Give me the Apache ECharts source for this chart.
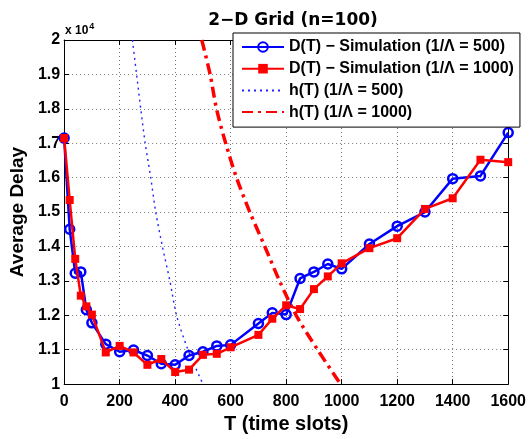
<!DOCTYPE html>
<html><head><meta charset="utf-8">
<script src="https://cdn.jsdelivr.net/npm/echarts@6/dist/echarts.min.js"></script>
<style>html,body{margin:0;padding:0;background:#fff}#c{width:529px;height:439px}</style>
</head><body><div id="c"></div>
<script>
const xTicks = [0,200,400,600,800,1000,1200,1400,1600];
const yTicks = [10000,11000,12000,13000,14000,15000,16000,17000,18000,19000,20000];
const simX = [0,20,40,60,80,100,150,200,250,300,350,400,450,500,550,600,700,750,800,850,900,950,1000,1100,1200,1300,1400,1500,1600];
const sim500 = [17150,14500,13220,13260,12160,11780,11160,10940,10990,10830,10590,10560,10830,10940,11110,11140,11760,12070,12020,13070,13260,13490,13350,14070,14590,15000,15970,16050,17310];
const sim1000 = [17150,15350,13640,12570,12260,12020,10920,11110,10920,10560,10730,10350,10420,10850,10880,11070,11430,11900,12290,12180,12760,13130,13510,13950,14240,15090,15400,16520,16450];
const hY = [20000,19000,18000,17000,16000,15000,14000,13000,12000,11000,10000];
const h500X = [246,261,276,292,312,330,354,381,405,446,500];
const h1000X = [496,526,549,582,621,669,723,776,836,913,996];
const names = ['D(T) \u2212 Simulation (1/\u039b = 500)','D(T) \u2212 Simulation (1/\u039b = 1000)','h(T) (1/\u039b = 500)','h(T) (1/\u039b = 1000)'];

const pair = (xs, ys) => xs.map((x,i)=>[x, ys[i]]);
const F = 'Liberation Sans, Arial, sans-serif';
const chart = echarts.init(document.getElementById('c'));
const axisBase = {
  axisLine:{show:true, onZero:false, lineStyle:{color:'#000', width:1}},
  axisTick:{show:true, inside:true, length:5, lineStyle:{color:'#000'}},
};
chart.setOption({
  animation:false,
  title:{text:'2\u2212D Grid (n=100)', left:288, top:7, textAlign:'center',
    textStyle:{fontFamily:'DejaVu Sans', fontWeight:'bold', fontSize:17, color:'#000'}},
  graphic:[{type:'text', left:65, top:22, style:{text:'x 10{s|4}', font:'bold 12px '+F, fill:'#000',
    rich:{s:{fontSize:9, fontWeight:'bold', fontFamily:F, verticalAlign:'top', padding:[0,0,9,1]}}}}],
  grid:{left:64, right:17, top:40, bottom:50},
  legend:{show:true, left:233, top:33, orient:'vertical', backgroundColor:'#fff', borderColor:'#000', borderWidth:1,
    padding:[6,6,7,8], itemWidth:42, itemHeight:12, itemGap:5.7,
    data:[{name:names[0]},{name:names[1]},{name:names[2], itemStyle:{opacity:0}},{name:names[3], itemStyle:{opacity:0}}],
    textStyle:{fontFamily:F, fontWeight:'bold', fontSize:16, lineHeight:16, color:'#000'}},
  xAxis:[{type:'value', min:0, max:1600, interval:200, ...axisBase,
    name:'T (time slots)', nameLocation:'middle', nameGap:27,
    nameTextStyle:{fontFamily:F, fontWeight:'bold', fontSize:20, color:'#000'},
    axisLabel:{fontFamily:F, fontWeight:'bold', fontSize:16, color:'#000', margin:9, formatter:v=>String(v)},
    splitLine:{show:true, lineStyle:{type:[1,3], color:'#777'}}},
    {type:'value', position:'top', min:0, max:1600, interval:200, ...axisBase, axisLabel:{show:false}, splitLine:{show:false}}],
  yAxis:[{type:'value', min:10000, max:20000, interval:1000, ...axisBase,
    name:'Average Delay', nameLocation:'middle', nameGap:35,
    nameTextStyle:{fontFamily:F, fontWeight:'bold', fontSize:19, color:'#000'},
    axisLabel:{fontFamily:F, fontWeight:'bold', fontSize:16, color:'#000', margin:4, formatter:v=>String(+(v/10000).toFixed(1))},
    splitLine:{show:true, lineStyle:{type:[1,3], color:'#777'}}},
    {type:'value', position:'right', min:10000, max:20000, interval:1000, ...axisBase, axisLabel:{show:false}, splitLine:{show:false}}],
  series:[
    {name:names[0], type:'line', data:pair(simX, sim500), color:'#0000ff', lineStyle:{width:2.5, color:'#0000ff'},
      symbol:'circle', symbolSize:9, itemStyle:{color:'rgba(255,255,255,0)', borderColor:'#0000ff', borderWidth:2.5}, z:3},
    {name:names[1], type:'line', data:pair(simX, sim1000), color:'#ff0000', lineStyle:{width:2.5, color:'#ff0000'},
      symbol:'rect', symbolSize:8, itemStyle:{color:'#ff0000', borderColor:'#ff0000', borderWidth:0}, z:4},
    {name:names[2], type:'line', data:pair(h500X, hY), color:'#2222ff', showSymbol:false, symbol:'none', smooth:0.3,
      lineStyle:{width:1.4, type:[2,4], color:'#2222ff'}, z:2},
    {name:names[3], type:'line', data:pair(h1000X, hY), color:'#ff0000', showSymbol:false, symbol:'none', smooth:0.3,
      lineStyle:{width:3.5, type:[11,5,3,5], color:'#ff0000'}, z:2}
  ]
});
</script></body></html>
